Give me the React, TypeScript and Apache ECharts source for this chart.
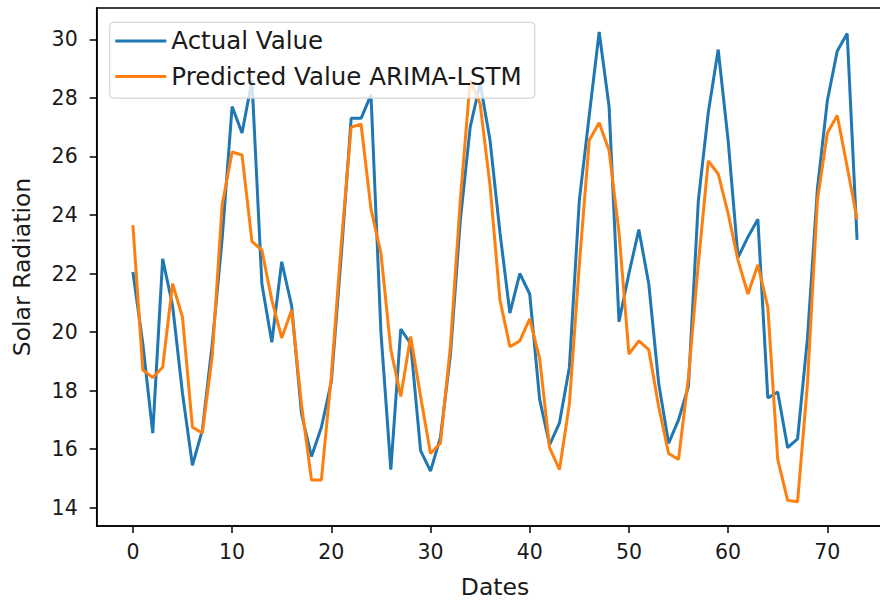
import React, { useEffect, useRef } from "react";
import * as echarts from "echarts";

const actualValues: number[] = [
  22.05, 19.6, 16.55, 22.5, 20.9, 17.9, 15.45, 16.65, 19.6, 23.2,
  27.7, 26.8, 28.6, 21.65, 19.65, 22.4, 20.9, 17.2, 15.75, 16.75,
  18.3, 22.6, 27.3, 27.3, 28.1, 20.0, 15.3, 20.1, 19.6, 15.95,
  15.25, 16.4, 19.2, 23.8, 27.0, 28.5, 26.55, 23.4, 20.65, 22.0,
  21.3, 17.7, 16.15, 16.9, 18.8, 24.5, 27.4, 30.25, 27.7, 20.35,
  22.0, 23.5, 21.65, 18.25, 16.2, 17.0, 18.15, 24.5, 27.5, 29.65,
  26.55, 22.55, 23.25, 23.85, 17.75, 17.95, 16.05, 16.35, 19.8, 24.9,
  27.9, 29.6, 30.2, 23.15,
];

const predictedValues: number[] = [
  23.65, 18.7, 18.45, 18.8, 21.65, 20.5, 16.75, 16.55, 19.2, 24.35,
  26.15, 26.05, 23.1, 22.8, 21.1, 19.8, 20.75, 17.5, 14.95, 14.95,
  18.5, 23.0, 27.0, 27.1, 24.2, 22.7, 19.4, 17.8, 19.85, 17.8,
  15.85, 16.2, 19.5, 24.5, 28.6, 27.8, 25.0, 21.1, 19.5, 19.7,
  20.45, 19.1, 16.05, 15.3, 17.55, 22.3, 26.55, 27.15, 26.2, 23.4,
  19.25, 19.7, 19.4, 17.45, 15.85, 15.65, 18.45, 22.35, 25.85, 25.4,
  24.05, 22.45, 21.3, 22.3, 20.85, 15.65, 14.25, 14.2, 18.25, 24.5,
  26.8, 27.4, 25.65, 23.85,
];

const xTicks: number[] = [0, 10, 20, 30, 40, 50, 60, 70];
const yTicks: number[] = [14, 16, 18, 20, 22, 24, 26, 28, 30];

const seriesNames: string[] = ["Actual Value", "Predicted Value ARIMA-LSTM"];
const xAxisTitle = "Dates";
const yAxisTitle = "Solar Radiation";

const FONT = "'DejaVu Sans', sans-serif";
const TEXT = "#1a1a1a";

export default function App() {
  const ref = useRef<HTMLDivElement>(null);

  useEffect(() => {
    if (!ref.current) return;
    const chart = echarts.init(ref.current, undefined, { renderer: "svg" });

    const toPairs = (arr: number[]) => arr.map((v, i) => [i, v]);

    chart.setOption({
      animation: false,
      backgroundColor: "#ffffff",
      grid: {
        left: 96.7,
        top: 8,
        width: 796.6,
        height: 518,
        outerBoundsMode: "none",
        containLabel: false,
        show: true,
        borderColor: "#000",
        borderWidth: 1.5,
        backgroundColor: "transparent",
      },
      graphic: [
        {
          type: "rect",
          zlevel: 1,
          z: 100,
          silent: true,
          shape: { x: 109.8, y: 22.2, width: 425, height: 76, r: 4 },
          style: {
            fill: "rgba(255,255,255,0.8)",
            stroke: "#cccccc",
            lineWidth: 1,
          },
        },
      ],
      legend: {
        orient: "vertical",
        zlevel: 1,
        z: 110,
        left: 109.3,
        top: 21.7,
        padding: [6.75, 13.3, 10.3, 6],
        icon: "rect",
        itemWidth: 51,
        itemHeight: 3,
        itemGap: 10.5,
        itemTextGap: 17,
        backgroundColor: "transparent",
        borderWidth: 0,
        textStyle: { fontFamily: FONT, fontSize: 24.5, color: TEXT },
        data: seriesNames,
      },
      xAxis: {
        type: "value",
        min: -3.65,
        max: 76.65,
        splitLine: { show: false },
        axisLine: { show: true, onZero: false, lineStyle: { color: "#000", width: 1.5 } },
        axisTick: {
          show: true,
          length: 7,
          customValues: xTicks,
          lineStyle: { color: "#000", width: 1.5 },
        },
        axisLabel: {
          customValues: xTicks,
          fontFamily: FONT,
          fontSize: 20.5,
          color: TEXT,
          margin: 15,
        },
        name: xAxisTitle,
        nameLocation: "middle",
        nameGap: 49,
        nameTextStyle: { fontFamily: FONT, fontSize: 23.5, lineHeight: 24, color: TEXT },
      },
      yAxis: {
        type: "value",
        min: 13.375,
        max: 31.07,
        splitLine: { show: false },
        axisLine: { show: true, onZero: false, lineStyle: { color: "#000", width: 1.5 } },
        axisTick: {
          show: true,
          length: 7,
          customValues: yTicks,
          lineStyle: { color: "#000", width: 1.5 },
        },
        axisLabel: {
          customValues: yTicks,
          fontFamily: FONT,
          fontSize: 20.5,
          color: TEXT,
          margin: 19,
        },
        name: yAxisTitle,
        nameLocation: "middle",
        nameRotate: 90,
        nameGap: 63,
        nameTextStyle: { fontFamily: FONT, fontSize: 23.5, color: TEXT },
      },
      series: [
        {
          name: seriesNames[0],
          type: "line",
          data: toPairs(actualValues),
          symbol: "none",
          lineStyle: { color: "#1f77b4", width: 3 },
          itemStyle: { color: "#1f77b4" },
        },
        {
          name: seriesNames[1],
          type: "line",
          data: toPairs(predictedValues),
          symbol: "none",
          lineStyle: { color: "#ff7f0e", width: 3 },
          itemStyle: { color: "#ff7f0e" },
        },
      ],
    });

    return () => chart.dispose();
  }, []);

  return (
    <div
      ref={ref}
      style={{ position: "absolute", left: 0, top: 0, width: 880, height: 601 }}
    />
  );
}
